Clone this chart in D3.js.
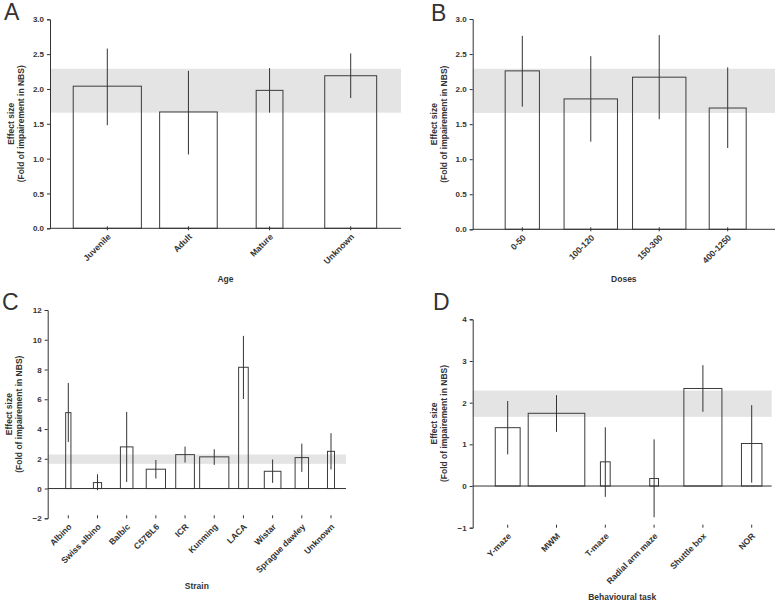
<!DOCTYPE html>
<html>
<head>
<meta charset="utf-8">
<script src="https://cdn.jsdelivr.net/npm/d3@7"></script>
<style>
  html, body { margin: 0; padding: 0; background: #fff; }
  svg { display: block; }
  text { font-family: "Liberation Sans", Arial, sans-serif; fill: #333; }
</style>
</head>
<body>
<svg id="chart" width="780" height="602"></svg>
<script>
// ---------------- DATA ----------------
// pooled effect (grey band) – confidence interval
const pooledLow = 1.66;
const pooledHigh = 2.29;

// Panel A – Age
const ageCats   = ["Juvenile", "Adult", "Mature", "Unknown"];
const ageMean   = [2.04, 1.67, 1.98, 2.19];
const ageLow    = [1.48, 1.06, 1.66, 1.87];
const ageHigh   = [2.58, 2.26, 2.30, 2.51];
const ageWeight = [0.84, 0.71, 0.33, 0.64];   // relative bar width
const ageTicks  = [0, 0.5, 1.0, 1.5, 2.0, 2.5, 3.0];

// Panel B – Doses
const doseCats   = ["0-50", "100-120", "150-300", "400-1250"];
const doseMean   = [2.26, 1.86, 2.17, 1.73];
const doseLow    = [1.75, 1.25, 1.57, 1.16];
const doseHigh   = [2.76, 2.47, 2.77, 2.31];
const doseWeight = [0.50, 0.78, 0.78, 0.54];
const doseTicks  = [0, 0.5, 1.0, 1.5, 2.0, 2.5, 3.0];

// Panel C – Strain
const strainCats   = ["Albino", "Swiss albino", "Balb/c", "C57BL6", "ICR", "Kunming", "LACA", "Wistar", "Sprague dawley", "Unknown"];
const strainMean   = [5.10, 0.40, 2.80, 1.30, 2.28, 2.13, 8.15, 1.16, 2.08, 2.50];
const strainLow    = [3.13, -0.11, 0.44, 0.67, 1.75, 1.59, 6.02, 0.38, 1.12, 1.28];
const strainHigh   = [7.10, 0.96, 5.15, 1.92, 2.82, 2.64, 10.26, 1.95, 3.02, 3.72];
const strainWeight = [0.18, 0.28, 0.43, 0.66, 0.64, 1.00, 0.33, 0.57, 0.46, 0.24];
const strainTicks  = [-2, 0, 2, 4, 6, 8, 10, 12];

// Panel D – Behavioural task
const taskCats   = ["Y-maze", "MWM", "T-maze", "Radial arm maze", "Shuttle box", "NOR"];
const taskMean   = [1.40, 1.745, 0.58, 0.18, 2.34, 1.02];
const taskLow    = [0.76, 1.30, -0.26, -0.75, 1.78, 0.08];
const taskHigh   = [2.04, 2.18, 1.41, 1.12, 2.90, 1.94];
const taskWeight = [0.51, 1.16, 0.20, 0.18, 0.78, 0.42];
const taskTicks  = [-1, 0, 1, 2, 3, 4];

const yTitle1 = "Effect size";
const yTitle2 = "(Fold of impairement in NBS)";

// ---------------- DRAW ----------------
const svg = d3.select("#chart");
const AXIS = "#333";
const BAR = "#3c3c3c";
const BAND = "#e4e4e4";

function panel(o) {
  const g = svg.append("g");
  const y = d3.scaleLinear().domain(o.domain).range([o.yBottom, o.yTop]);
  const x = d3.scalePoint().domain(o.cats).range(o.xRange);
  const step = x.step();
  const rows = o.cats.map((c, i) => ({c, m: o.mean[i], lo: o.low[i], hi: o.high[i], w: o.weight[i]}));

  // grey band
  g.append("rect")
    .attr("x", o.xLeft).attr("width", o.xRight - o.xLeft)
    .attr("y", y(pooledHigh)).attr("height", y(pooledLow) - y(pooledHigh))
    .attr("fill", BAND);

  // bars (hollow)
  g.selectAll("rect.bar").data(rows).enter().append("rect")
    .attr("class", "bar")
    .attr("x", d => x(d.c) - d.w * step / 2)
    .attr("width", d => d.w * step)
    .attr("y", d => Math.min(y(d.m), y(0)))
    .attr("height", d => Math.abs(y(0) - y(d.m)))
    .attr("fill", "none").attr("stroke", BAR).attr("stroke-width", 1);

  // error lines
  g.selectAll("line.err").data(rows).enter().append("line")
    .attr("x1", d => x(d.c)).attr("x2", d => x(d.c))
    .attr("y1", d => y(d.hi)).attr("y2", d => y(d.lo))
    .attr("stroke", AXIS).attr("stroke-width", 1);

  // zero line / x axis line
  g.append("line")
    .attr("x1", o.xLeft).attr("x2", o.xRight)
    .attr("y1", y(0)).attr("y2", y(0))
    .attr("stroke", AXIS).attr("stroke-width", 1);

  // y axis
  const yAxis = d3.axisLeft(y).tickValues(o.ticks).tickSize(3).tickPadding(3)
    .tickFormat(o.fmt);
  const ya = g.append("g").attr("transform", `translate(${o.xLeft},0)`).call(yAxis);
  ya.select(".domain").attr("stroke", AXIS);
  ya.selectAll(".tick line").attr("stroke", AXIS);
  ya.selectAll(".tick text").attr("font-size", 8).attr("font-weight", "bold")
    .attr("fill", "#333").attr("font-family", "Liberation Sans, Arial, sans-serif");

  // x ticks and labels at bottom
  const yb = y(o.domain[0]);
  g.selectAll("line.xt").data(o.cats).enter().append("line")
    .attr("x1", d => x(d)).attr("x2", d => x(d))
    .attr("y1", yb - o.tickUp).attr("y2", yb + o.tickDown)
    .attr("stroke", AXIS).attr("stroke-width", 1);
  g.selectAll("text.xl").data(o.cats).enter().append("text")
    .attr("transform", d => `translate(${x(d) + 4},${yb + 9}) rotate(-45)`)
    .attr("text-anchor", "end")
    .attr("font-size", 8.6).attr("font-weight", "bold")
    .text(d => d);

  // axis titles
  g.append("text")
    .attr("x", (o.xLeft + o.xRight) / 2).attr("y", o.xTitleY)
    .attr("text-anchor", "middle").attr("font-size", 8.5).attr("font-weight", "bold")
    .text(o.xTitle);
  const yc = (o.yTop + o.yBottom) / 2;
  g.append("text")
    .attr("transform", `translate(${o.xLeft - 36},${yc}) rotate(-90)`)
    .attr("text-anchor", "middle").attr("font-size", 8.5).attr("font-weight", "bold")
    .text(yTitle1);
  g.append("text")
    .attr("transform", `translate(${o.xLeft - 26},${yc}) rotate(-90)`)
    .attr("text-anchor", "middle").attr("font-size", 8.5).attr("font-weight", "bold")
    .text(yTitle2);

  // panel letter
  g.append("text")
    .attr("x", o.letterX).attr("y", o.letterY)
    .attr("font-size", 23).attr("fill", "#222")
    .text(o.letter);
}

panel({
  cats: ageCats, mean: ageMean, low: ageLow, high: ageHigh, weight: ageWeight,
  domain: [0, 3], ticks: ageTicks, fmt: d3.format(".1f"),
  xLeft: 50, xRight: 401, yTop: 19.3, yBottom: 228.3, xRange: [107.3, 350.7],
  tickUp: 2, tickDown: 2,
  xTitle: "Age", xTitleY: 282, letter: "A", letterX: 4, letterY: 20
});
panel({
  cats: doseCats, mean: doseMean, low: doseLow, high: doseHigh, weight: doseWeight,
  domain: [0, 3], ticks: doseTicks, fmt: d3.format(".1f"),
  xLeft: 472.7, xRight: 775, yTop: 19, yBottom: 229.3, xRange: [522.3, 727.7],
  tickUp: 2, tickDown: 2,
  xTitle: "Doses", xTitleY: 282, letter: "B", letterX: 431, letterY: 21
});
panel({
  cats: strainCats, mean: strainMean, low: strainLow, high: strainHigh, weight: strainWeight,
  domain: [-2, 12], ticks: strainTicks, fmt: d3.format("d"),
  xLeft: 47.7, xRight: 346, yTop: 310, yBottom: 518.3, xRange: [68.3, 331],
  tickUp: 3, tickDown: 0,
  xTitle: "Strain", xTitleY: 589, letter: "C", letterX: 2, letterY: 310
});
panel({
  cats: taskCats, mean: taskMean, low: taskLow, high: taskHigh, weight: taskWeight,
  domain: [-1, 4], ticks: taskTicks, fmt: d3.format("d"),
  xLeft: 472.7, xRight: 771.7, yTop: 319.3, yBottom: 527.7, xRange: [507.7, 751.7],
  tickUp: 3, tickDown: 0,
  xTitle: "Behavioural task", xTitleY: 600, letter: "D", letterX: 433, letterY: 310
});
</script>
</body>
</html>
